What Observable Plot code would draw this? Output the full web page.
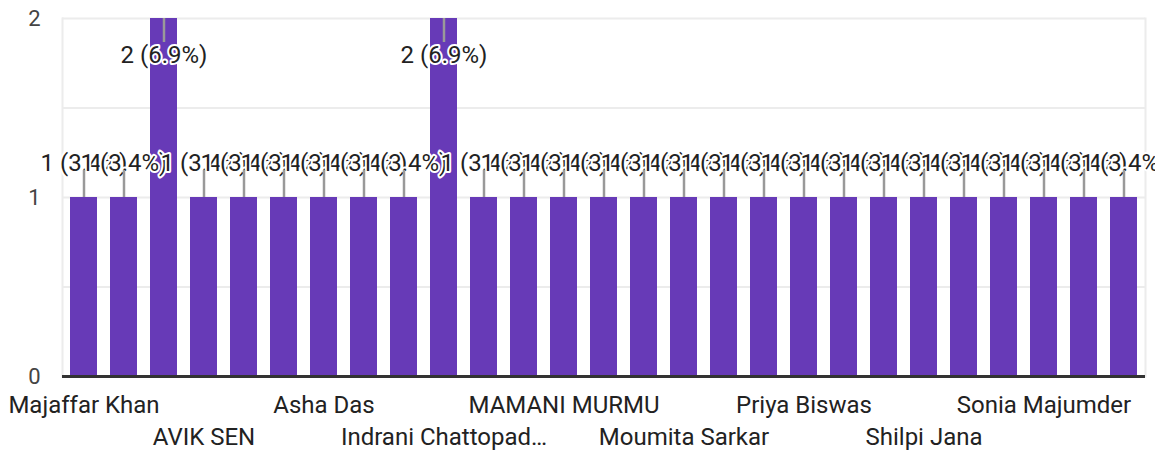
<!DOCTYPE html>
<html>
<head>
<meta charset="utf-8">
<script src="https://cdn.jsdelivr.net/npm/d3@7"></script>
<script src="https://cdn.jsdelivr.net/npm/@observablehq/plot@0.6"></script>
<style>
  html, body { margin: 0; padding: 0; background: #fff; overflow: hidden; }
  #chart svg { display: block; }
</style>
</head>
<body>
<div id="chart"></div>
<script>
// Respondent names (only every third name is visible in the reference; the others are placeholders)
const names = [
  "Majaffar Khan", "ANIMESH PAL", "ARPITA GHOSH", "AVIK SEN", "Amit Roy", "Anita Mondal",
  "Asha Das", "Bapi Ghosh", "Dipa Saha", "Indrani Chattopadhyay", "Jayanta Pal", "Kakali Dey",
  "MAMANI MURMU", "Mina Hansda", "Mitali Paul", "Moumita Sarkar", "Nabanita Das", "Papiya Sen",
  "Priya Biswas", "Rina Mondal", "Sanjay Barman", "Shilpi Jana", "Soma Bera", "Somnath Ghosh",
  "Sonia Majumder", "Sumana Das", "Tapas Maity"
];
const counts = [
  1, 1, 2, 1, 1, 1,
  1, 1, 1, 2, 1, 1,
  1, 1, 1, 1, 1, 1,
  1, 1, 1, 1, 1, 1,
  1, 1, 1
];
const yTicks = [0, 1, 2];
const gridValues = [0.5, 1, 1.5, 2];
const labelRow1 = names.filter((d, i) => i % 6 === 0);
const labelRow2 = names.filter((d, i) => i % 6 === 3);

const total = d3.sum(counts);
const data = names.map((name, i) => ({name, value: counts[i]}));
const maxVal = d3.max(counts);
const fmtPct = d => `${d.value} (${(d.value / total * 100).toFixed(1)}%)`;
const truncate = s => s.length > 18 ? s.slice(0, 17) + "…" : s;

const tops = data.filter(d => d.value === maxVal);
const lows = data.filter(d => d.value !== maxVal);

const chart = Plot.plot({
  width: 1155,
  height: 453,
  marginLeft: 62,
  marginRight: 10,
  marginTop: 18,
  marginBottom: 77,
  style: {fontFamily: "Roboto, Arial, sans-serif", color: "#333", background: "#fff", overflow: "visible"},
  x: {domain: names, paddingInner: 0.33, paddingOuter: 0.165, axis: null, label: null},
  y: {domain: [0, 2], axis: null, label: null},
  marks: [
    Plot.ruleY(gridValues, {stroke: "#ececec", strokeWidth: 2}),
    Plot.frame({stroke: "#ececec", strokeWidth: 2, anchor: "left"}),
    Plot.frame({stroke: "#ececec", strokeWidth: 2, anchor: "right"}),
    Plot.barY(data, {x: "name", y: "value", fill: "#673ab7"}),
    Plot.ruleY([0], {stroke: "#333", strokeWidth: 3}),
    // value labels for lower bars (above the bar)
    Plot.text(lows, {x: "name", y: "value", text: fmtPct, dy: -34, fontSize: 24,
      fill: "#222", stroke: "white", strokeWidth: 4}),
    // value labels for the tallest bars (inside, below the top)
    Plot.text(tops, {x: "name", y: "value", text: fmtPct, dy: 37, fontSize: 24,
      fill: "#222", stroke: "white", strokeWidth: 4}),
    // leader lines
    Plot.ruleX(lows, {x: "name", y1: "value", y2: "value", insetTop: -27, stroke: "#999", strokeWidth: 2.5}),
    Plot.ruleX(tops, {x: "name", y1: "value", y2: "value", insetBottom: -24, stroke: "#999", strokeWidth: 2.5}),
    Plot.axisY({ticks: yTicks, tickSize: 0, tickPadding: 22, fontSize: 22, fill: "#444",
      tickFormat: d3.format("d"), label: null}),
    Plot.axisX({ticks: labelRow1, tickSize: 0, tickPadding: 19, fontSize: 24, fill: "#222",
      tickFormat: truncate, label: null}),
    Plot.axisX({ticks: labelRow2, tickSize: 0, tickPadding: 51, fontSize: 24, fill: "#222",
      tickFormat: truncate, label: null})
  ]
});
document.getElementById("chart").appendChild(chart);
</script>
</body>
</html>
